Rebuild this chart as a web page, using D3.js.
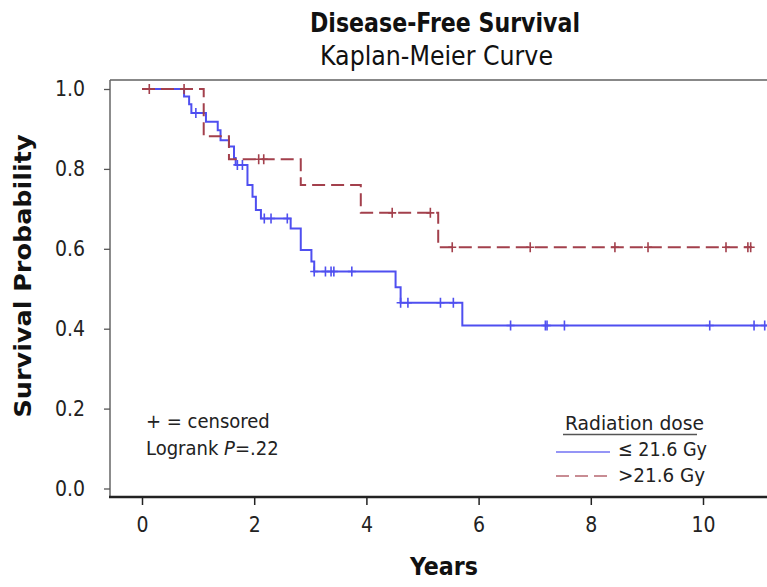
<!DOCTYPE html>
<html><head><meta charset="utf-8">
<script src="https://cdn.jsdelivr.net/npm/d3@7"></script>
<style>
html,body{margin:0;padding:0;background:#fff;}
svg{display:block;font-family:"DejaVu Sans Condensed","DejaVu Sans",sans-serif;}
</style></head>
<body>
<svg id="chart" width="767" height="587"></svg>
<script>
// ---- data ----
const lowTimes = [0, 0.75, 0.84, 0.88, 1.14, 1.35, 1.40, 1.55, 1.64, 1.67, 1.88, 1.97, 2.03, 2.12, 2.65, 2.83, 3.02, 3.07, 4.52, 4.61, 5.71, 11.6];
const lowSurv  = [1.0, 0.981, 0.962, 0.940, 0.918, 0.897, 0.872, 0.856, 0.827, 0.810, 0.760, 0.730, 0.697, 0.676, 0.651, 0.597, 0.568, 0.543, 0.504, 0.465, 0.408, 0.408];
const lowCensored = [0.96, 1.70, 1.79, 2.18, 2.30, 2.59, 3.07, 3.27, 3.37, 3.42, 3.74, 4.61, 4.74, 5.32, 5.55, 6.57, 7.19, 7.22, 7.53, 10.12, 10.91, 11.10];

const highTimes = [0, 1.10, 1.55, 2.83, 3.90, 5.28, 10.87];
const highSurv  = [1.0, 0.882, 0.824, 0.760, 0.690, 0.604, 0.604];
const highCensored = [0.13, 0.75, 2.08, 2.17, 4.46, 5.14, 5.53, 6.92, 8.43, 9.02, 10.41, 10.80, 10.85];

const xTicks = [0, 2, 4, 6, 8, 10];
const yTicks = [0.0, 0.2, 0.4, 0.6, 0.8, 1.0];
const seriesNames = ["\u2264 21.6 Gy", ">21.6 Gy"];
const seriesColors = ["#4f4ff0", "#a3404c"];

// ---- layout ----
const svg = d3.select("#chart");
const frame = {left: 110, right: 767, top: 80, bottom: 497};
const x = d3.scaleLinear().domain([0, 10]).range([142, 703]);
const y = d3.scaleLinear().domain([0, 1]).range([488.5, 89]);

svg.append("clipPath").attr("id", "clip").append("rect")
  .attr("x", frame.left).attr("y", frame.top - 10)
  .attr("width", frame.right - frame.left).attr("height", frame.bottom - frame.top + 10);

// frame
svg.append("line").attr("x1", frame.left).attr("x2", frame.right).attr("y1", frame.top).attr("y2", frame.top)
  .attr("stroke", "#888").attr("stroke-width", 2);
svg.append("line").attr("x1", frame.left).attr("x2", frame.left).attr("y1", frame.top).attr("y2", frame.bottom)
  .attr("stroke", "#666").attr("stroke-width", 1.5);

// y axis
const yAxis = svg.append("g").attr("transform", `translate(${frame.left},0)`)
  .call(d3.axisLeft(y).tickValues(yTicks).tickFormat(d3.format(".1f")).tickSize(6).tickPadding(19));
yAxis.select(".domain").remove();
yAxis.selectAll("line").attr("stroke", "#555").attr("stroke-width", 1.3);
yAxis.selectAll("text").attr("font-size", 21).attr("fill", "#222")
  .attr("font-family", "DejaVu Sans Condensed");

// x axis
const xAxis = svg.append("g").attr("transform", `translate(0,${frame.bottom})`)
  .call(d3.axisBottom(x).tickValues(xTicks).tickFormat(d3.format("d")).tickSize(8).tickPadding(12));
xAxis.select(".domain").remove();
xAxis.selectAll("line").attr("stroke", "#222").attr("stroke-width", 1.5);
xAxis.selectAll("text").attr("font-size", 21).attr("fill", "#222")
  .attr("font-family", "DejaVu Sans Condensed");
svg.append("line").attr("x1", frame.left - 1).attr("x2", frame.right).attr("y1", frame.bottom).attr("y2", frame.bottom)
  .attr("stroke", "#222").attr("stroke-width", 2.5);

// curves
const plot = svg.append("g").attr("clip-path", "url(#clip)");
const stepLine = d3.line().x(d => x(d[0])).y(d => y(d[1])).curve(d3.curveStepAfter);
function survAt(times, surv, t) {
  let v = surv[0];
  for (let i = 0; i < times.length; i++) if (times[i] <= t + 1e-9) v = surv[i];
  return v;
}
const series = [
  {times: lowTimes, surv: lowSurv, cens: lowCensored, color: seriesColors[0], dash: null},
  {times: highTimes, surv: highSurv, cens: highCensored, color: seriesColors[1], dash: "13,6"}
];
series.forEach(s => {
  const pts = s.times.map((t, i) => [t, s.surv[i]]);
  plot.append("path").datum(pts).attr("d", stepLine)
    .attr("fill", "none").attr("stroke", s.color).attr("stroke-width", 2)
    .attr("stroke-dasharray", s.dash);
  plot.selectAll(null).data(s.cens).enter().append("path")
    .attr("d", t => {
      const cx = x(t), cy = y(survAt(s.times, s.surv, t));
      return `M${cx - 4},${cy}H${cx + 4}M${cx},${cy - 5}V${cy + 5}`;
    })
    .attr("stroke", s.color).attr("stroke-width", 1.6).attr("fill", "none");
});

// titles
function fitText(sel, w) {
  sel.attr("textLength", w).attr("lengthAdjust", "spacingAndGlyphs");
  return sel;
}
fitText(svg.append("text").attr("x", 445).attr("y", 32).attr("text-anchor", "middle")
  .attr("font-size", 27).attr("font-weight", "bold").attr("fill", "#111")
  .text("Disease-Free Survival"), 270);
fitText(svg.append("text").attr("x", 436.5).attr("y", 65).attr("text-anchor", "middle")
  .attr("font-size", 26).attr("fill", "#111")
  .text("Kaplan-Meier Curve"), 233);
fitText(svg.append("text").attr("transform", "translate(31,276) rotate(-90)").attr("text-anchor", "middle")
  .attr("font-size", 23).attr("font-weight", "bold").attr("fill", "#111")
  .text("Survival Probability"), 283);
fitText(svg.append("text").attr("x", 444).attr("y", 575).attr("text-anchor", "middle")
  .attr("font-size", 25).attr("font-weight", "bold").attr("fill", "#111")
  .text("Years"), 68);

// annotations
svg.append("text").attr("x", 146).attr("y", 428).attr("font-size", 20).attr("fill", "#222")
  .text("+ = censored");
const lr = svg.append("text").attr("x", 146).attr("y", 455).attr("font-size", 20).attr("fill", "#222");
lr.append("tspan").text("Logrank ");
lr.append("tspan").attr("font-style", "italic").text("P");
lr.append("tspan").text("=.22");

// legend
fitText(svg.append("text").attr("x", 565).attr("y", 430).attr("font-size", 20).attr("fill", "#222")
  .text("Radiation dose"), 139);
svg.append("line").attr("x1", 563).attr("x2", 697).attr("y1", 434.5).attr("y2", 434.5)
  .attr("stroke", "#555").attr("stroke-width", 1.5);
const legY = [452, 476], legTextY = [456, 482], legW = [89, 87];
seriesNames.forEach((name, i) => {
  svg.append("line").attr("x1", 556).attr("x2", 610).attr("y1", legY[i]).attr("y2", legY[i])
    .attr("stroke", seriesColors[i]).attr("stroke-width", 1.5).attr("stroke-opacity", 0.8)
    .attr("stroke-dasharray", i === 1 ? "13,6" : null);
  fitText(svg.append("text").attr("x", 618).attr("y", legTextY[i]).attr("font-size", 20).attr("fill", "#222")
    .text(name), legW[i]);
});
</script>
</body></html>
